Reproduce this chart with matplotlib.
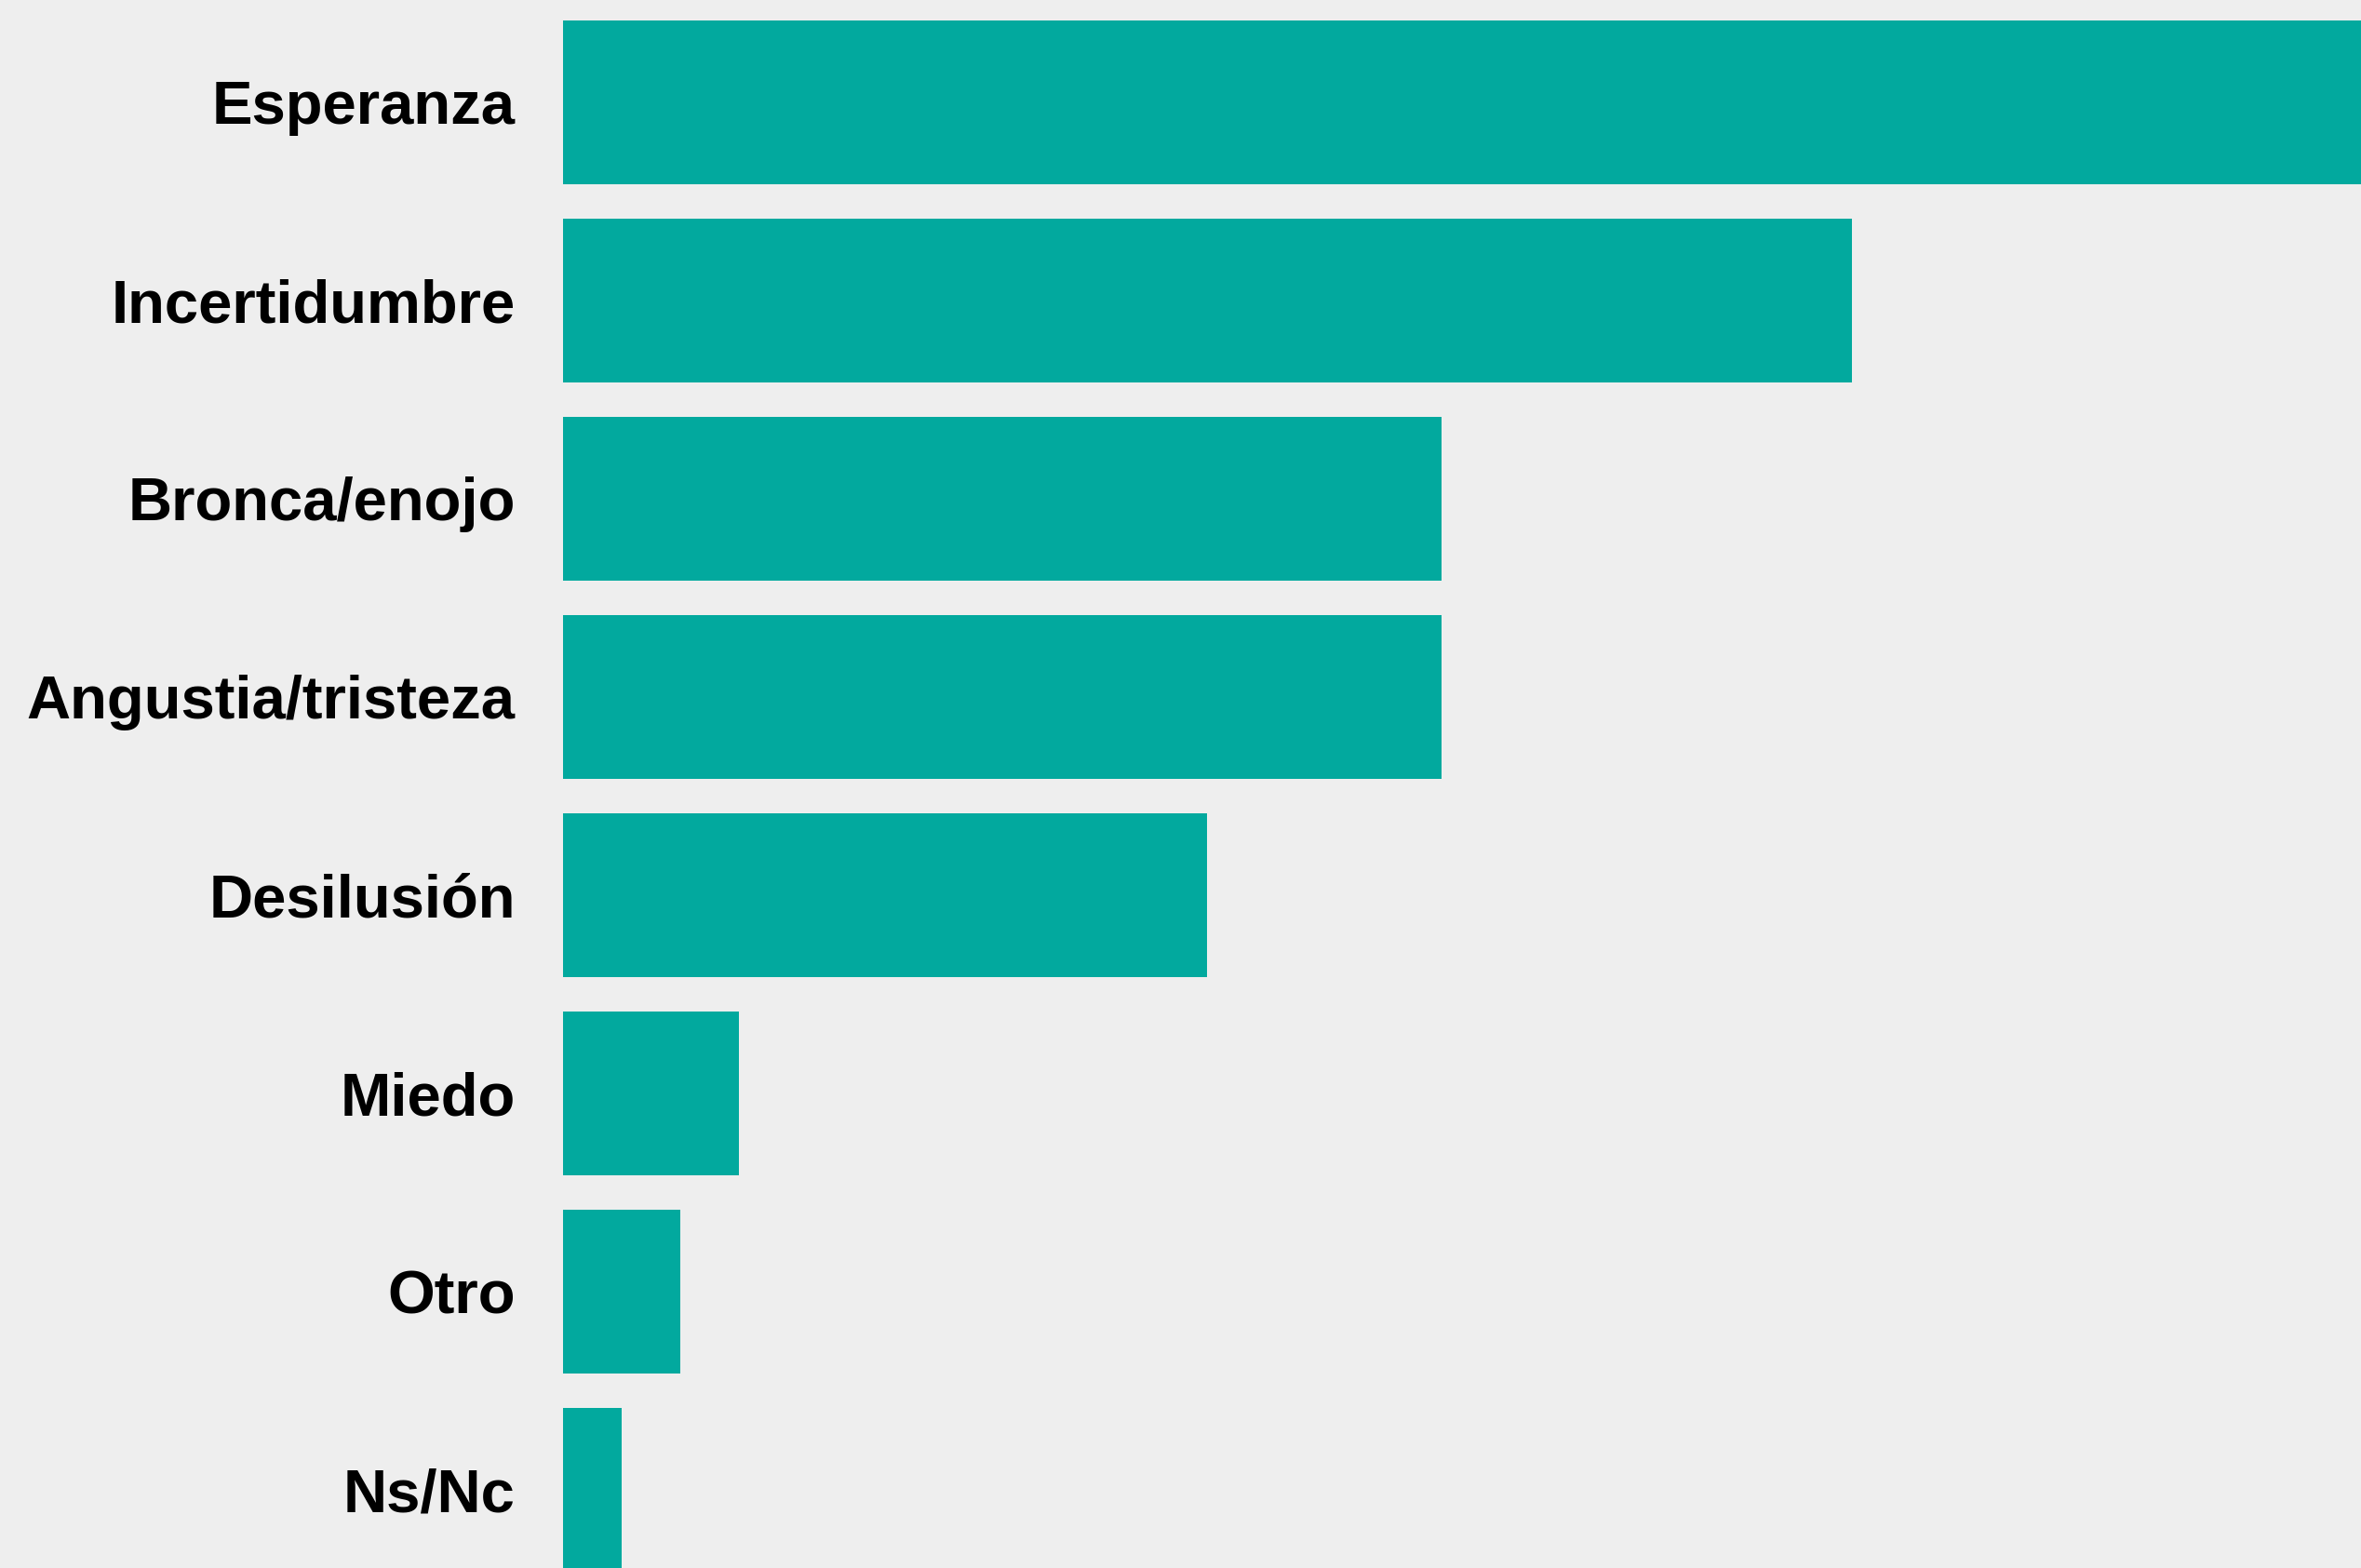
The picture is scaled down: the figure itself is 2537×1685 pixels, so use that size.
import matplotlib.pyplot as plt

# emotion categories and share of answers (%)
categories = ['Esperanza', 'Incertidumbre', 'Bronca/enojo', 'Angustia/tristeza',
              'Desilusión', 'Miedo', 'Otro', 'Ns/Nc']
values = [31, 22, 15, 15, 11, 3, 2, 1]

bg = '#EEEEEE'
teal = '#02A99E'

fig = plt.figure(figsize=(25.37, 16.85), dpi=100, facecolor=bg)
ax = fig.add_axes([0.2385, 0.0, 0.7615, 1.0])
ax.set_facecolor(bg)

ypos = list(range(len(categories)))
ax.barh(ypos, values, height=0.825, color=teal)

ax.set_yticks(ypos)
ax.set_yticklabels(categories, fontsize=47, fontweight='bold', family='Liberation Sans')
ax.tick_params(axis='y', length=0, pad=37)
ax.set_xticks([])

ax.set_xlim(0, 30.7)
ax.set_ylim(7.394, -0.516)

for s in ax.spines.values():
    s.set_visible(False)

fig.savefig('out.png', dpi=100, facecolor=bg)
